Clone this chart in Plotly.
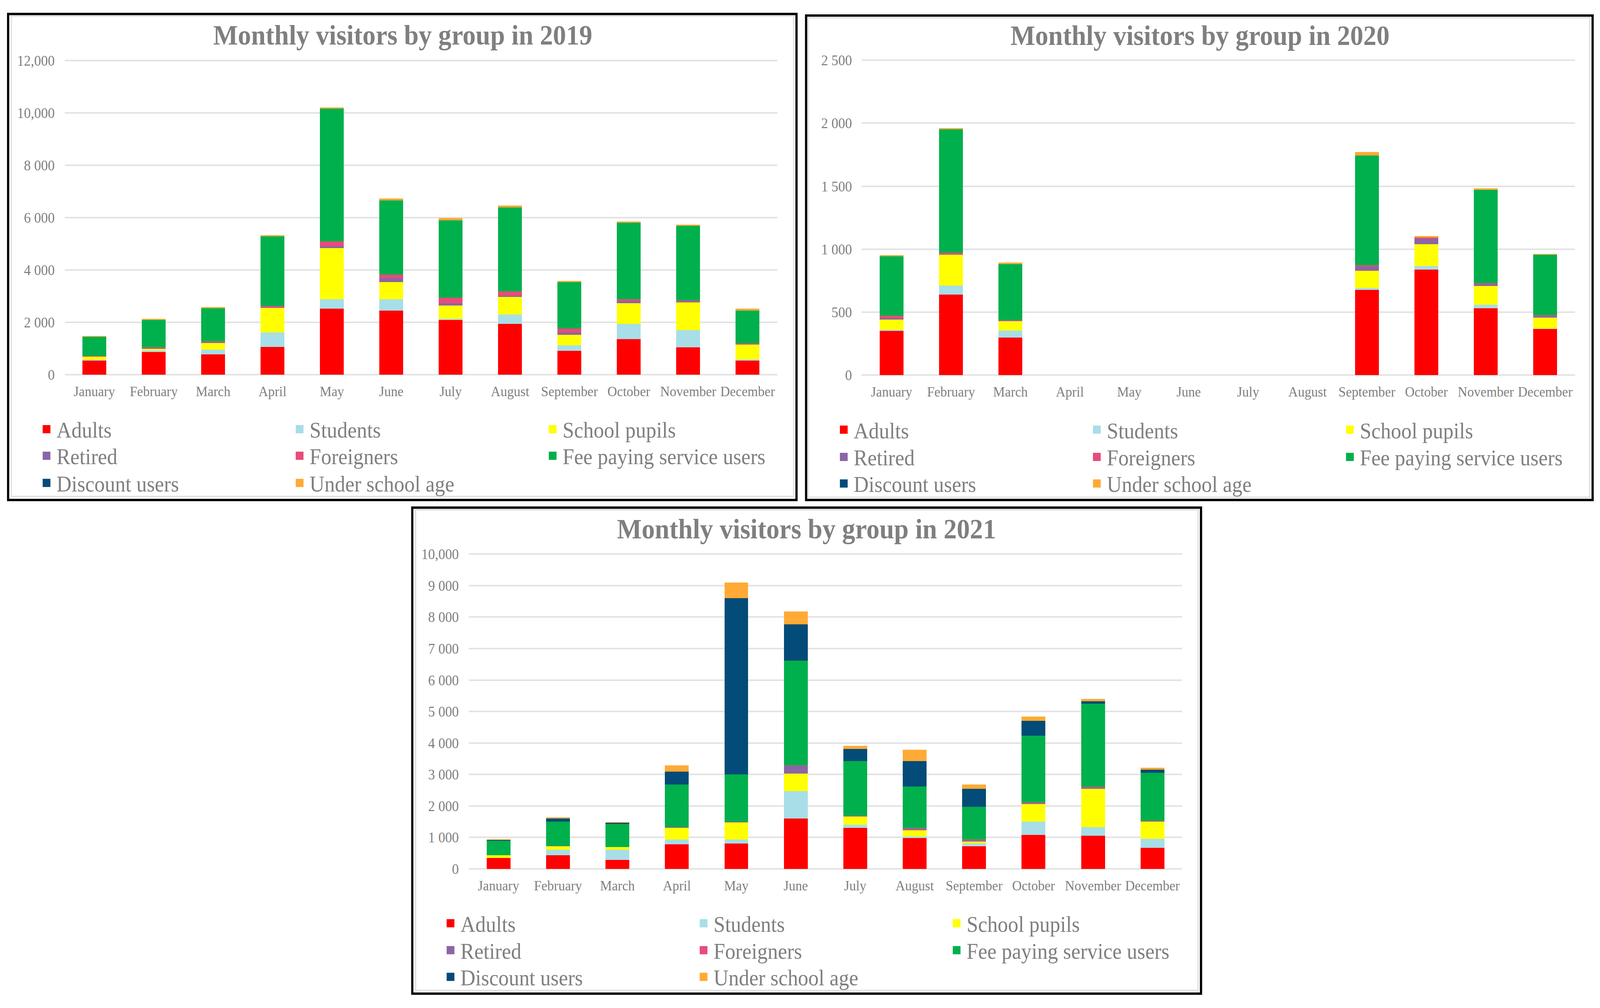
import plotly.graph_objects as go

# ---------------- data ----------------
months = ["January", "February", "March", "April", "May", "June", "July",
          "August", "September", "October", "November", "December"]
groups = ["Adults", "Students", "School pupils", "Retired", "Foreigners",
          "Fee paying service users", "Discount users", "Under school age"]
colors = ["#FF0000", "#A7DEE8", "#FFFF00", "#8B65A5", "#E84C7A",
          "#00B04C", "#034B78", "#FFAA35"]

adults_2019 = [545, 865, 780, 1070, 2530, 2445, 2085, 1945, 920, 1355, 1045, 545]
students_2019 = [30, 65, 180, 545, 355, 440, 55, 350, 205, 590, 660, 38]
pupils_2019 = [120, 66, 245, 950, 1955, 660, 510, 675, 405, 790, 1060, 575]
retired_2019 = [10, 15, 50, 15, 65, 150, 85, 47, 85, 95, 38, 15]
foreigners_2019 = [15, 30, 10, 50, 180, 120, 205, 160, 150, 55, 38, 30]
fee_2019 = [740, 1045, 1280, 2650, 5075, 2840, 2950, 3215, 1775, 2915, 2850, 1240]
discount_2019 = [0, 0, 0, 0, 0, 0, 0, 0, 0, 0, 0, 0]
under_2019 = [28, 45, 37, 47, 47, 75, 100, 75, 47, 47, 47, 75]

adults_2020 = [350, 640, 300, 0, 0, 0, 0, 0, 677, 839, 532, 369]
students_2020 = [12, 72, 53, 0, 0, 0, 0, 0, 17, 27, 28, 2]
pupils_2020 = [80, 245, 76, 0, 0, 0, 0, 0, 135, 175, 148, 85]
retired_2020 = [13, 3, 6, 0, 0, 0, 0, 0, 33, 43, 15, 14]
foreigners_2020 = [16, 12, 4, 0, 0, 0, 0, 0, 10, 8, 8, 6]
fee_2020 = [472, 979, 442, 0, 0, 0, 0, 0, 873, 0, 741, 482]
discount_2020 = [0, 0, 0, 0, 0, 0, 0, 0, 0, 0, 0, 0]
under_2020 = [10, 10, 12, 0, 0, 0, 0, 0, 26, 12, 12, 5]

adults_2021 = [350, 430, 280, 785, 805, 1600, 1300, 980, 713, 1080, 1057, 673]
students_2021 = [0, 180, 330, 150, 125, 875, 100, 55, 94, 422, 266, 282]
pupils_2021 = [80, 110, 80, 365, 550, 555, 265, 195, 55, 556, 1222, 548]
retired_2021 = [0, 8, 5, 15, 20, 250, 12, 47, 40, 25, 30, 12]
foreigners_2021 = [0, 8, 5, 10, 5, 5, 12, 25, 30, 30, 33, 12]
fee_2021 = [460, 770, 730, 1360, 1500, 3325, 1730, 1315, 1035, 2122, 2640, 1527]
discount_2021 = [25, 95, 30, 400, 5600, 1165, 385, 805, 580, 470, 70, 102]
under_2021 = [30, 40, 30, 205, 495, 400, 110, 360, 133, 133, 86, 62]

ticks_2019 = [0, 2000, 4000, 6000, 8000, 10000, 12000]
ticktext_2019 = ["0", "2 000", "4 000", "6 000", "8 000", "10,000", "12,000"]
ticks_2020 = [0, 500, 1000, 1500, 2000, 2500]
ticktext_2020 = ["0", "500", "1 000", "1 500", "2 000", "2 500"]
ticks_2021 = [0, 1000, 2000, 3000, 4000, 5000, 6000, 7000, 8000, 9000, 10000]
ticktext_2021 = ["0", "1 000", "2 000", "3 000", "4 000", "5 000", "6 000",
                 "7 000", "8 000", "9 000", "10,000"]

titles = ["Monthly visitors by group in 2019",
          "Monthly visitors by group in 2020",
          "Monthly visitors by group in 2021"]

series = [
    [adults_2019, students_2019, pupils_2019, retired_2019, foreigners_2019,
     fee_2019, discount_2019, under_2019],
    [adults_2020, students_2020, pupils_2020, retired_2020, foreigners_2020,
     fee_2020, discount_2020, under_2020],
    [adults_2021, students_2021, pupils_2021, retired_2021, foreigners_2021,
     fee_2021, discount_2021, under_2021],
]
tickvals = [ticks_2019, ticks_2020, ticks_2021]
ticktexts = [ticktext_2019, ticktext_2020, ticktext_2021]

# ---------------- layout geometry (pixels) ----------------
W, H = 4331, 2580
GRAY = "#7F7F7F"
FONT = "Liberation Serif"


def px(x):
    return x / W


def py(y):
    return 1 - y / H


panels = [
    dict(x0=175, x1=2104, ytop=140.5, ybot=955.5,
         frame=(22, 20, 2156, 1280), inner=(30.5, 25.5, 2148.5, 1271),
         title_x=1090, title_y=75,
         leg_x=126, leg_rows=[1096.5, 1165.5, 1236]),
    dict(x0=2333, x1=4263, ytop=140, ybot=956.5,
         frame=(2182, 24, 4311, 1280), inner=(2187.5, 30, 4303, 1273),
         title_x=3248, title_y=76,
         leg_x=2284, leg_rows=[1098, 1168.5, 1237.5]),
    dict(x0=1269, x1=3200, ytop=1420.5, ybot=2236.5,
         frame=(1116, 1300, 3251, 2560), inner=(1125, 1305.5, 3243, 2552),
         title_x=2183, title_y=1355,
         leg_x=1219.5, leg_rows=[2377.5, 2447.5, 2516.5]),
]
legend_rows = [[0, 1, 2], [3, 4, 5], [6, 7]]
PAD = 4

fig = go.Figure()
layout = dict(
    width=W, height=H, margin=dict(l=0, r=0, t=0, b=0),
    paper_bgcolor="white", plot_bgcolor="white",
    barmode="stack", bargap=0.6, showlegend=True,
    font=dict(family=FONT, color=GRAY),
)
shapes = []
annotations = []

for p, pan in enumerate(panels):
    sfx = "" if p == 0 else str(p + 1)
    xa, ya = "x" + sfx, "y" + sfx
    top_val = tickvals[p][-1]
    per_px = top_val / (pan["ybot"] - pan["ytop"])
    layout["xaxis" + sfx] = dict(
        domain=[px(pan["x0"]), px(pan["x1"])], anchor=ya,
        type="category", categoryorder="array", categoryarray=months,
        showgrid=False, showline=False, zeroline=False, ticks="",
        tickfont=dict(family=FONT, size=36, color=GRAY),
        ticklabelstandoff=14, fixedrange=True,
    )
    layout["yaxis" + sfx] = dict(
        domain=[py(pan["ybot"] + PAD), py(pan["ytop"] - PAD)], anchor=xa,
        range=[-PAD * per_px, top_val + PAD * per_px],
        tickmode="array", tickvals=tickvals[p], ticktext=ticktexts[p],
        showgrid=True, gridcolor="#E3E3E3", gridwidth=4,
        zeroline=False, showline=False, ticks="",
        tickfont=dict(family=FONT, size=37, color=GRAY),
        ticklabelstandoff=26, fixedrange=True,
    )
    for g, name in enumerate(groups):
        fig.add_trace(go.Bar(
            x=months, y=series[p][g], name=name, xaxis=xa, yaxis=ya,
            marker=dict(color=colors[g], line=dict(width=0)),
            showlegend=False,
        ))
    # legend entries (one horizontal legend per row, three columns)
    for r, row in enumerate(legend_rows):
        n = p * 3 + r + 1
        lid = "legend" if n == 1 else "legend%d" % n
        for g in row:
            fig.add_trace(go.Scatter(
                x=[None], y=[None], mode="markers", name=groups[g],
                xaxis=xa, yaxis=ya, legend=lid, showlegend=True,
                marker=dict(symbol="square", size=16, color=colors[g],
                            line=dict(width=5, color=colors[g])),
            ))
        layout[lid] = dict(
            orientation="h", x=px(pan["leg_x"] - 27), xanchor="left",
            y=py(pan["leg_rows"][r]), yanchor="middle",
            xref="paper", yref="paper", traceorder="normal",
            entrywidth=626, entrywidthmode="pixels", itemwidth=44,
            bgcolor="rgba(0,0,0,0)", borderwidth=0,
            font=dict(family=FONT, size=56, color=GRAY),
            itemclick=False, itemdoubleclick=False,
        )
    # frames
    fx0, fy0, fx1, fy1 = pan["frame"]
    shapes.append(dict(type="rect", xref="paper", yref="paper",
                       x0=px(fx0), x1=px(fx1), y0=py(fy0), y1=py(fy1),
                       line=dict(color="black", width=6), fillcolor="rgba(0,0,0,0)",
                       layer="above"))
    ix0, iy0, ix1, iy1 = pan["inner"]
    shapes.append(dict(type="rect", xref="paper", yref="paper",
                       x0=px(ix0), x1=px(ix1), y0=py(iy0), y1=py(iy1),
                       line=dict(color="#E3E3E3", width=4), fillcolor="rgba(0,0,0,0)",
                       layer="below"))
    annotations.append(dict(
        text=titles[p], xref="paper", yref="paper",
        x=px(pan["title_x"]), y=py(pan["title_y"]),
        xanchor="center", yanchor="middle", showarrow=False,
        font=dict(family=FONT, size=71, color=GRAY, weight="bold"),
    ))

layout["shapes"] = shapes
layout["annotations"] = annotations
fig.update_layout(**layout)

# fit the fixed-size figure exactly into the browser viewport
fit_js = """
document.documentElement.style.margin = '0';
document.documentElement.style.overflow = 'hidden';
document.body.style.margin = '0';
document.body.style.overflow = 'hidden';
var gd = document.getElementById('{plot_id}');
var kx = window.innerWidth / %d;
var ky = window.innerHeight / %d;
gd.style.transformOrigin = '0 0';
gd.style.transform = 'scale(' + kx + ',' + ky + ')';
""" % (W, H)

fig.write_html("out.html", post_script=fit_js,
               config={"displayModeBar": False, "responsive": False})
